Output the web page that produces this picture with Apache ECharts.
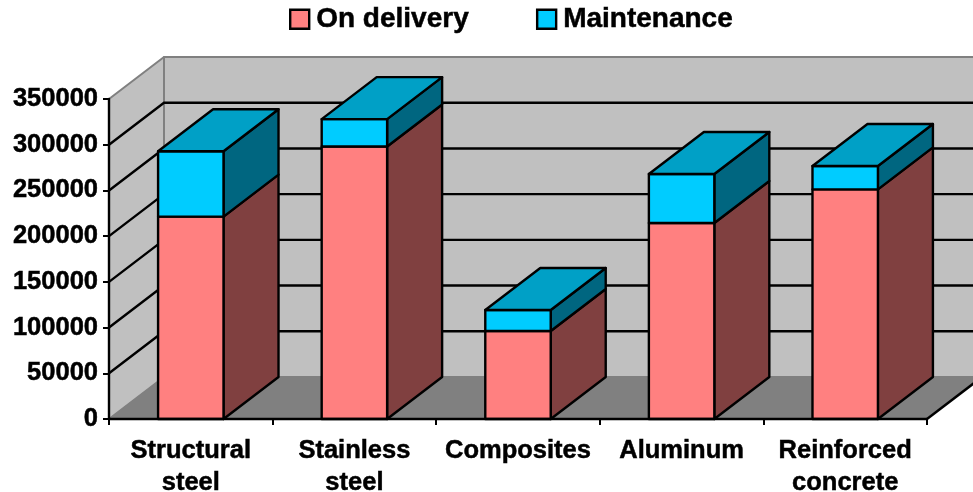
<!DOCTYPE html>
<html>
<head>
<meta charset="utf-8">
<style>html,body{margin:0;padding:0;background:#fff}#c{width:973px;height:492px}</style>
<script src="https://cdn.jsdelivr.net/npm/echarts@6/dist/echarts.min.js"></script>
</head>
<body>
<div id="c"></div>
<script>
var categories = ['Structural\nsteel', 'Stainless\nsteel', 'Composites', 'Aluminum', 'Reinforced\nconcrete'];
var onDelivery = [221300, 298000, 96300, 214400, 251200];
var maintenance = [71500, 30000, 23000, 53600, 25500];
var gridTicks = [50000, 100000, 150000, 200000, 250000, 300000];

var chart = echarts.init(document.getElementById('c'), null, {renderer: 'canvas'});
var WALL_DX = 55, WALL_DY = -42, BAR_DX = 55, BAR_DY = -42;
var FONT = '"Liberation Sans", Arial, sans-serif';
var LINE = 2.4;
var EDGE = {stroke: '#000', lineWidth: LINE};

function poly(points, fill, stroke, width) {
  return {type: 'polygon', shape: {points: points},
    style: {fill: fill, stroke: stroke, lineWidth: width, lineJoin: 'round'}};
}

function renderWalls(params, api) {
  var s = params.coordSys;
  var l = s.x, r = s.x + s.width, t = s.y, b = s.y + s.height;
  var d = WALL_DX, h = WALL_DY, g = '#808080';
  return {type: 'group', children: [
    poly([[l + d, t + h], [r + d, t + h], [r + d, b + h], [l + d, b + h]], '#C0C0C0', g, 2),
    poly([[l, t], [l + d, t + h], [l + d, b + h], [l, b]], '#C0C0C0', g, 2),
    poly([[l, b], [l + d, b + h], [r + d, b + h], [r, b]], '#808080', g, 1),
    {type: 'line', shape: {x1: r, y1: b, x2: r + d, y2: b + h}, style: EDGE}
  ]};
}

function renderGrid(params, api) {
  var s = params.coordSys;
  var y = api.coord([0, api.value(0)])[1];
  var l = s.x, r = s.x + s.width;
  return {type: 'polyline',
    shape: {points: [[l, y], [l + WALL_DX, y + WALL_DY], [r + WALL_DX, y + WALL_DY]]},
    style: {fill: null, stroke: '#000', lineWidth: LINE}};
}

function barRenderer(front, side, top) {
  return function (params, api) {
    var i = api.value(0);
    var p0 = api.coord([i, api.value(1)]);
    var p1 = api.coord([i, api.value(2)]);
    var w = api.size([1, 0])[0] * 0.4;
    var xl = p0[0] - w / 2, xr = p0[0] + w / 2;
    var yb = p0[1], yt = p1[1], dx = BAR_DX, dy = BAR_DY;
    var kids = [
      poly([[xr, yb], [xr + dx, yb + dy], [xr + dx, yt + dy], [xr, yt]], side, '#000', LINE),
      poly([[xl, yb], [xr, yb], [xr, yt], [xl, yt]], front, '#000', LINE)
    ];
    if (top) kids.push(poly([[xl, yt], [xr, yt], [xr + dx, yt + dy], [xl + dx, yt + dy]], top, '#000', LINE));
    return {type: 'group', children: kids};
  };
}

var lowerData = categories.map(function (c, i) { return [i, 0, onDelivery[i]]; });
var upperData = categories.map(function (c, i) { return [i, onDelivery[i], onDelivery[i] + maintenance[i]]; });

var BOLD = {fontFamily: FONT, fontWeight: 'bold', color: '#000', textBorderColor: '#000', textBorderWidth: 0.5};

chart.setOption({
  animation: false,
  legend: {
    left: 289, top: 5, padding: 0, itemWidth: 19, itemHeight: 19, itemGap: 67, icon: 'rect',
    data: ['On delivery', 'Maintenance'],
    itemStyle: {borderColor: '#000', borderWidth: 2.4},
    textStyle: Object.assign({fontSize: 28, padding: [0, 0, 0, 2]}, BOLD)
  },
  grid: {left: 109, right: 46, top: 99, bottom: 73, containLabel: false, outerBoundsMode: 'none'},
  xAxis: {
    type: 'category', data: categories, z: 10,
    axisLine: {lineStyle: {color: '#000', width: LINE}},
    axisTick: {show: true, length: 6, lineStyle: {color: '#000', width: 2}},
    axisLabel: Object.assign({interval: 0, margin: 16, fontSize: 25.5, lineHeight: 32}, BOLD),
    splitLine: {show: false}
  },
  yAxis: {
    type: 'value', min: 0, max: 350000, interval: 50000, z: 10,
    axisLine: {show: true, lineStyle: {color: '#000', width: LINE}},
    axisTick: {show: true, length: 6, lineStyle: {color: '#000', width: 2}},
    axisLabel: Object.assign({margin: 11, fontSize: 25.5, formatter: function (v) { return String(v); }}, BOLD),
    splitLine: {show: false}
  },
  series: [
    {type: 'custom', name: 'walls', z: 1, silent: true, data: [[0]], renderItem: renderWalls, encode: {x: 0, y: -1}},
    {type: 'custom', name: 'grid', z: 2, silent: true, data: gridTicks.map(function (v) { return [v]; }), renderItem: renderGrid, encode: {y: 0, x: -1}},
    {type: 'custom', name: 'On delivery', z: 3, data: lowerData, itemStyle: {color: '#FF8080'},
      renderItem: barRenderer('#FF8080', '#804040', null), encode: {x: 0, y: 2}},
    {type: 'custom', name: 'Maintenance', z: 4, data: upperData, itemStyle: {color: '#00CCFF'},
      renderItem: barRenderer('#00CCFF', '#006680', '#00A0C6'), encode: {x: 0, y: 2}}
  ]
});
</script>
</body>
</html>
